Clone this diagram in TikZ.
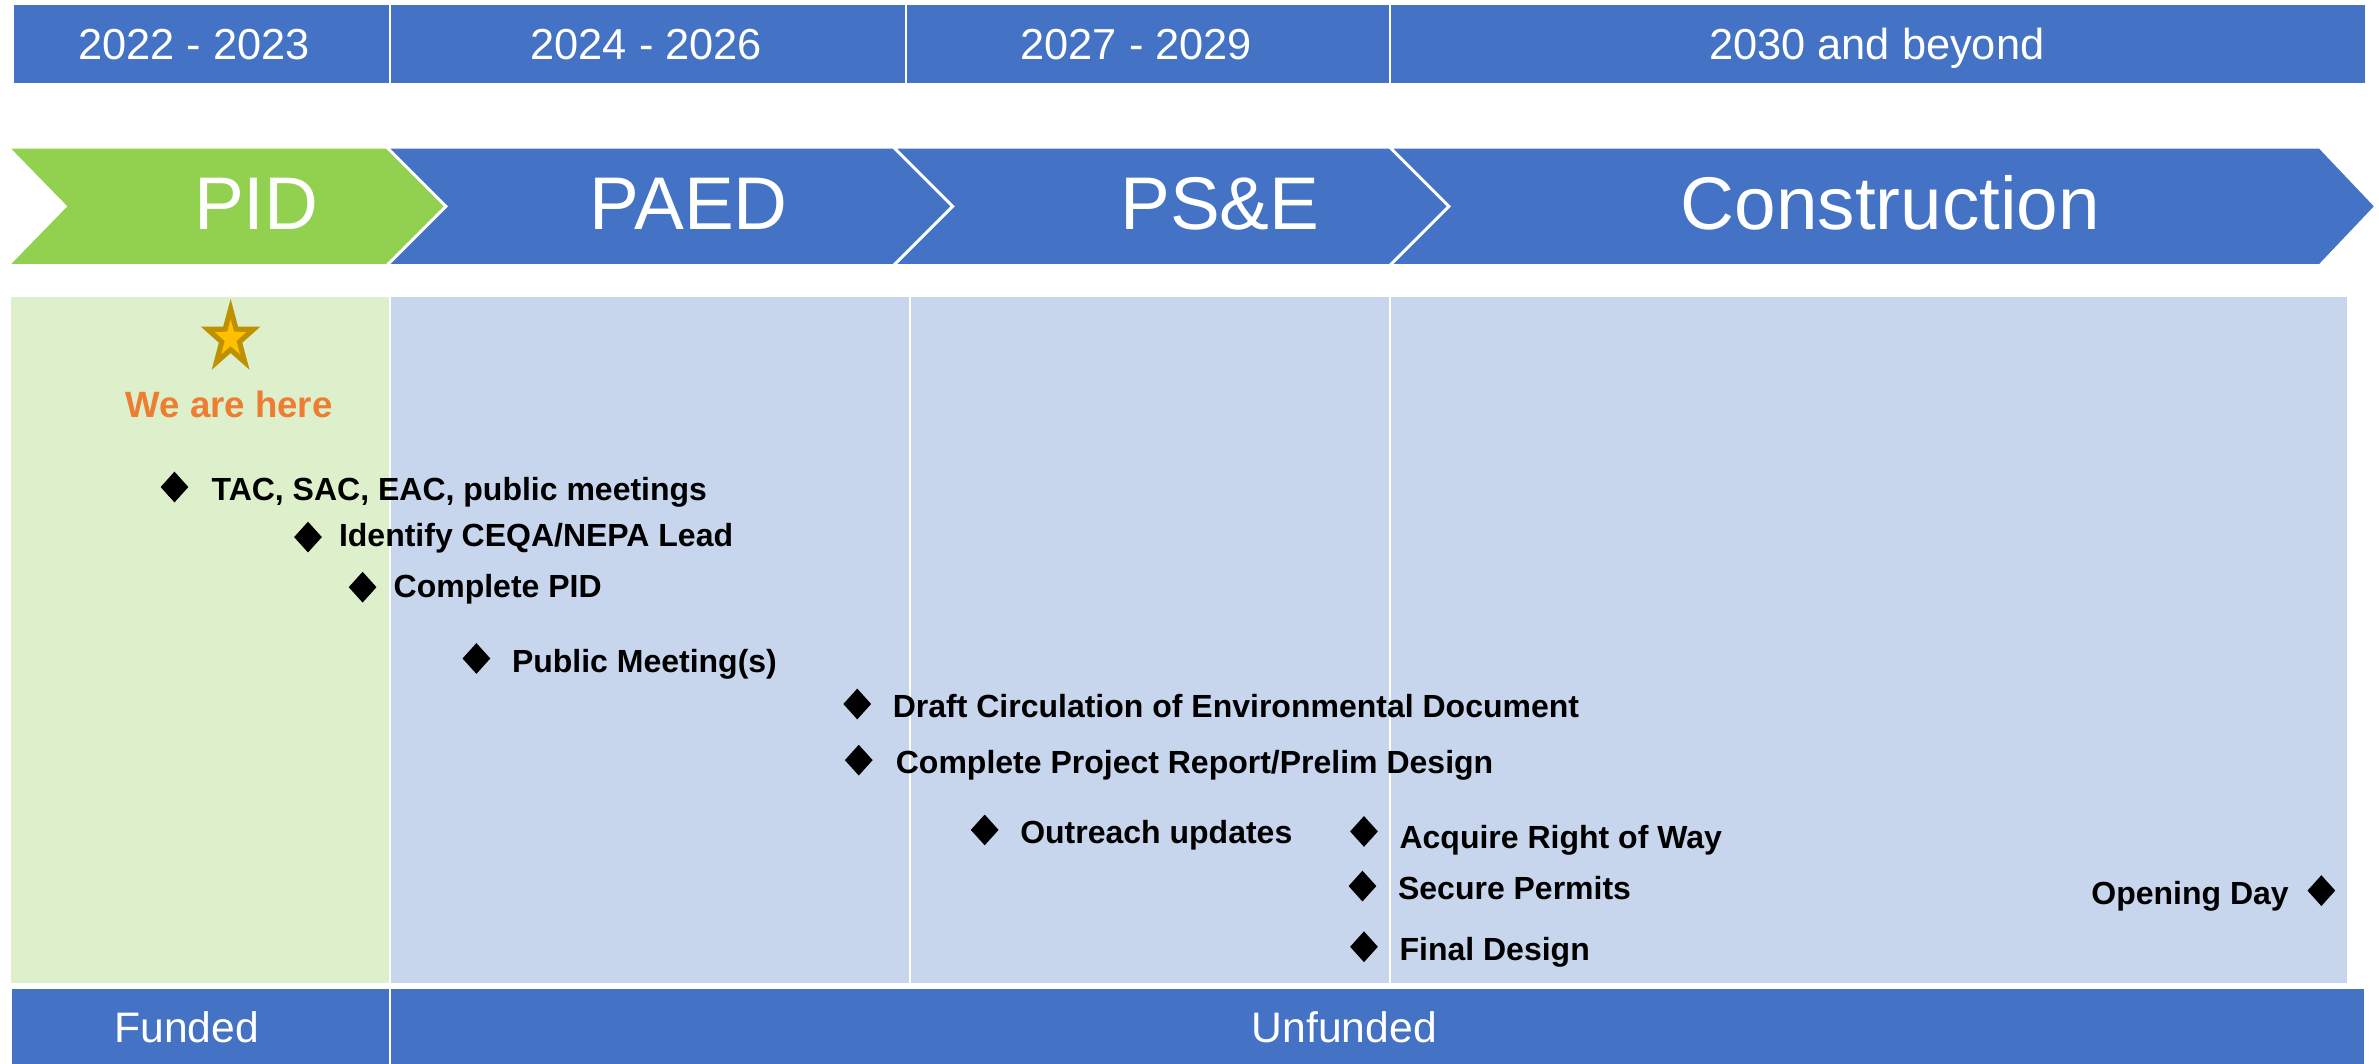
\documentclass[tikz,border=0pt]{standalone}
\usepackage{fontspec}
\setmainfont{Liberation Sans}
\usepackage{tikz}
\usetikzlibrary{shapes.geometric}
\definecolor{barblue}{HTML}{4472C4}
\definecolor{pidgreen}{HTML}{92D050}
\definecolor{panelblue}{RGB}{199,213,237}
\definecolor{panelgreen}{RGB}{222,239,203}
\definecolor{hereorange}{HTML}{ED7D31}
\definecolor{stargold}{HTML}{FFC000}
\definecolor{stardark}{HTML}{BF9000}
\tikzset{
  yeartext/.style={text=white, inner sep=0pt, anchor=base, font=\fontsize{12.2}{14}\selectfont},
  phasetext/.style={text=white, inner sep=0pt, anchor=base, font=\fontsize{21}{25}\selectfont},
  fundtext/.style={yeartext, font=\fontsize{12}{14}\selectfont},
  chevron/.style={fill=barblue, draw=white, line width=0.8pt, line join=miter},
  divider/.style={draw=white, line width=0.6pt},
  msdiamond/.style={diamond, fill=black, inner sep=0pt, minimum width=0.28cm, minimum height=0.31cm},
  mslabel/.style={inner sep=0pt, anchor=base west, font=\bfseries\fontsize{9}{11}\selectfont},
  herestar/.style={star, star points=5, star point ratio=2.6, minimum size=16.6pt, inner sep=0pt, fill=stargold, draw=stardark, line width=1.45pt}
}
\begin{document}
\begin{tikzpicture}[x=0.015cm, y=-0.015cm]
  \useasboundingbox (0,0) rectangle (1568,701);

  % year bar
  \fill[barblue] (9,3) rectangle (1559,55);
  \draw[divider] (257,3) -- (257,55);
  \draw[divider] (597,3) -- (597,55);
  \draw[divider] (916,3) -- (916,55);
  \node[yeartext] (y1) at (128,39) {2022 - 2023};
  \node[yeartext] (y2) at (426,39) {2024 - 2026};
  \node[yeartext] (y3) at (749,39) {2027 - 2029};
  \node[yeartext] (y4) at (1237,39) {2030 and beyond};

  % phases
  \filldraw[chevron, fill=pidgreen] (5,97) -- (255,97) -- (294,136) -- (255,175) -- (5,175) -- (43,136) -- cycle;
  \filldraw[chevron] (255,97) -- (589,97) -- (628,136) -- (589,175) -- (255,175) -- (294,136) -- cycle;
  \filldraw[chevron] (589,97) -- (916,97) -- (955,136) -- (916,175) -- (589,175) -- (628,136) -- cycle;
  \filldraw[chevron] (916,97) -- (1529,97) -- (1566,136) -- (1529,175) -- (916,175) -- (955,136) -- cycle;
  \node[phasetext] (pid) at (169,151) {PID};
  \node[phasetext] (paed) at (454,151) {PAED};
  \node[phasetext] (pse) at (804,151) {PS\&E};
  \node[phasetext] (constr) at (1246,151) {Construction};

  % panels
  \fill[panelgreen] (7,196) rectangle (257,648);
  \fill[panelblue] (257,196) rectangle (1547,648);
  \draw[divider] (257,196) -- (257,648);
  \draw[divider] (600,196) -- (600,648);
  \draw[divider] (916,196) -- (916,648);

  % we are here
  \begin{scope}[shift={(152,223)}, xscale=0.82]
    \node[herestar, transform shape] (here) at (0,0) {};
  \end{scope}
  \node[inner sep=0pt, anchor=base, text=hereorange, font=\bfseries\fontsize{10.3}{12}\selectfont] (herelbl) at (151,275) {We are here};

  % milestones
  \node[msdiamond] (ms1) at (115,321) {};
  \node[mslabel] (ms1t) at (139,330) {TAC, SAC, EAC, public meetings};
  \node[msdiamond] (ms2) at (203,354) {};
  \node[mslabel] (ms2t) at (223,360) {Identify CEQA/NEPA Lead};
  \node[msdiamond] (ms3) at (239,387) {};
  \node[mslabel] (ms3t) at (259,394) {Complete PID};
  \node[msdiamond] (ms4) at (314,434) {};
  \node[mslabel] (ms4t) at (337,443) {Public Meeting(s)};
  \node[msdiamond] (ms5) at (565,464) {};
  \node[mslabel] (ms5t) at (588,473) {Draft Circulation of Environmental Document};
  \node[msdiamond] (ms6) at (566,501) {};
  \node[mslabel] (ms6t) at (590,510) {Complete Project Report/Prelim Design};
  \node[msdiamond] (ms7) at (649,547) {};
  \node[mslabel] (ms7t) at (672,556) {Outreach updates};
  \node[msdiamond] (ms8) at (899,548) {};
  \node[mslabel] (ms8t) at (922,559) {Acquire Right of Way};
  \node[msdiamond] (ms9) at (898,584) {};
  \node[mslabel] (ms9t) at (921,593) {Secure Permits};
  \node[msdiamond] (ms10) at (899,624) {};
  \node[mslabel] (ms10t) at (922,633) {Final Design};
  \node[msdiamond] (ms11) at (1530,587) {};
  \node[mslabel, anchor=base east] (ms11t) at (1509,596) {Opening Day};

  % funding bar
  \fill[barblue] (8,652) rectangle (1558,701);
  \draw[divider] (257,652) -- (257,701);
  \node[fundtext] (funded) at (123,687) {Funded};
  \node[fundtext] (unfunded) at (886,687) {Unfunded};
\end{tikzpicture}
\end{document}
